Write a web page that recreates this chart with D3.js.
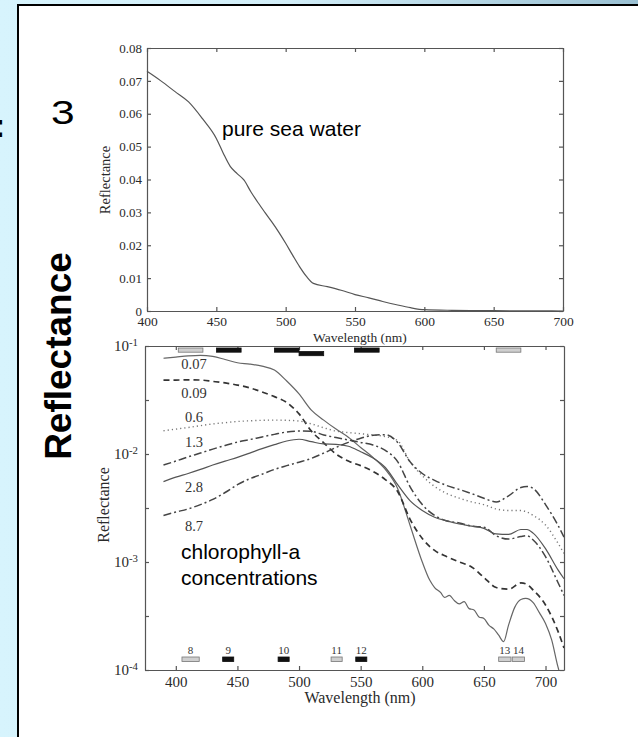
<!DOCTYPE html>
<html>
<head>
<meta charset="utf-8">
<script src="https://cdn.jsdelivr.net/npm/d3@7"></script>
<style>
  body { margin: 0; background: #fff; }
  svg { display: block; }
</style>
</head>
<body>
<svg width="638" height="737"></svg>
<script>
// ---- data ----

// pure sea water reflectance (top panel)
const seaWl = [400, 410, 420, 430, 440, 450, 455, 460, 465, 470, 475, 480, 485, 490, 495, 500, 505, 510, 515, 520, 530, 540, 550, 560, 570, 580, 590, 600, 620, 650, 700];
const seaR = [0.0729, 0.0700, 0.0668, 0.0636, 0.0585, 0.0525, 0.0480, 0.0440, 0.0418, 0.0398, 0.0362, 0.0330, 0.0300, 0.0271, 0.0240, 0.0206, 0.0170, 0.0135, 0.0105, 0.0084, 0.0074, 0.0063, 0.0050, 0.0040, 0.0029, 0.0019, 0.0010, 0.0004, 0.0002, 0.0001, 0.0];

// chlorophyll-a spectra (bottom panel), shared grid
const chlWl = [390, 400, 410, 420, 430, 440, 450, 460, 470, 480, 490, 500, 510, 520, 530, 540, 550, 560, 570, 580, 590, 600, 610, 620, 630, 640, 650, 660, 670, 680, 685, 690, 700, 710, 715];
const chl009 = [0.0484, 0.0484, 0.0486, 0.0484, 0.0470, 0.0455, 0.0435, 0.0410, 0.0375, 0.0340, 0.0300, 0.0235, 0.0163, 0.0127, 0.0100, 0.0086, 0.0078, 0.0069, 0.0058, 0.0045, 0.0025, 0.00165, 0.00128, 0.00112, 0.00100, 0.00090, 0.00072, 0.00058, 0.00056, 0.00064, 0.00062, 0.00055, 0.00040, 0.00023, 0.00016];
const chl06 = [0.0164, 0.0170, 0.0176, 0.0183, 0.0190, 0.0195, 0.0200, 0.0203, 0.0205, 0.0206, 0.0205, 0.0202, 0.0190, 0.0175, 0.0163, 0.0158, 0.0154, 0.0150, 0.0145, 0.0133, 0.0085, 0.0063, 0.0050, 0.0043, 0.0039, 0.0036, 0.0034, 0.0031, 0.0030, 0.0030, 0.0029, 0.0027, 0.0022, 0.0015, 0.0012];
const chl13 = [0.0079, 0.0086, 0.0094, 0.0102, 0.0111, 0.0120, 0.0129, 0.0136, 0.0144, 0.0152, 0.0160, 0.0163, 0.0162, 0.0150, 0.0142, 0.0135, 0.0128, 0.0121, 0.0108, 0.0085, 0.0050, 0.0034, 0.0027, 0.0024, 0.0023, 0.00215, 0.0021, 0.00175, 0.00163, 0.00172, 0.00175, 0.0016, 0.00112, 0.00065, 0.00049];
const chl28 = [0.00555, 0.0061, 0.0066, 0.0072, 0.0079, 0.0086, 0.0093, 0.0102, 0.0112, 0.0122, 0.0132, 0.0137, 0.0130, 0.0124, 0.0123, 0.0118, 0.0105, 0.0092, 0.0075, 0.0052, 0.0037, 0.0030, 0.0026, 0.0024, 0.00225, 0.00215, 0.00205, 0.00182, 0.0018, 0.0020, 0.0020, 0.00185, 0.00133, 0.00085, 0.00070];
const chl87 = [0.0027, 0.0029, 0.0031, 0.0034, 0.0038, 0.0044, 0.0052, 0.0059, 0.0065, 0.0072, 0.0078, 0.0084, 0.0091, 0.0102, 0.0115, 0.0128, 0.0140, 0.0149, 0.0151, 0.0128, 0.0085, 0.0066, 0.0057, 0.0051, 0.0047, 0.0043, 0.0039, 0.0036, 0.0041, 0.0049, 0.0050, 0.0048, 0.0034, 0.0022, 0.0017];

// lowest concentration is noisy in the red, so it gets its own grid
const chl007Wl = [390, 400, 410, 420, 430, 440, 450, 460, 470, 480, 490, 500, 510, 520, 530, 540, 550, 560, 570, 580, 590, 600, 606, 610, 615, 618, 622, 626, 630, 634, 638, 642, 646, 650, 654, 658, 662, 666, 670, 675, 680, 684, 690, 695, 700, 705, 710, 715];
const chl007 = [0.0770, 0.0790, 0.0810, 0.0820, 0.0800, 0.0750, 0.0700, 0.0680, 0.0650, 0.0600, 0.0474, 0.0360, 0.0255, 0.0206, 0.0170, 0.0143, 0.0115, 0.0093, 0.0072, 0.0048, 0.0022, 0.00100, 0.00068, 0.00058, 0.00052, 0.00047, 0.00049, 0.00044, 0.00041, 0.00043, 0.00037, 0.00036, 0.00031, 0.00030, 0.00026, 0.00024, 0.00021, 0.000183, 0.00026, 0.00038, 0.00045, 0.00046, 0.00042, 0.00034, 0.00027, 0.00019, 0.000108, 0.00007];

const chlLabels = ["0.07", "0.09", "0.6", "1.3", "2.8", "8.7"];

// sensor bands: unlabeled row along the top, numbered row along the bottom
const topBandStart = [402, 433, 480, 500, 545, 660];
const topBandEnd = [422, 453, 500, 520, 565, 680];
const topBandDark = [false, true, true, true, true, false];
const topBandLevel = [0, 0, 0, 1, 0, 0];

const bandNames = ["8", "9", "10", "11", "12", "13", "14"];
const bandStart = [405, 438, 483, 526, 546, 662, 673];
const bandEnd = [419, 447, 492, 535, 555, 672, 683];
const bandDark = [false, true, true, false, true, false, false];

const xTicks = [400, 450, 500, 550, 600, 650, 700];
const yTicksTop = [0, 0.01, 0.02, 0.03, 0.04, 0.05, 0.06, 0.07, 0.08];
const logTickExp = [-4, -3.5, -3, -2.5, -2, -1.5, -1];

// ---- setup ----
const svg = d3.select("svg");
const serif = "'Liberation Serif', 'Times New Roman', serif";
const sans = "'Liberation Sans', Arial, sans-serif";
const axisColor = "#555";
const textColor = "#2a2a2a";

const defs = svg.append("defs");
const bg = defs.append("linearGradient").attr("id", "bg")
  .attr("x1", 0).attr("x2", 1).attr("y1", 0).attr("y2", 0);
bg.append("stop").attr("offset", "0%").attr("stop-color", "#d7f4fd");
bg.append("stop").attr("offset", "45%").attr("stop-color", "#d2eef8");
bg.append("stop").attr("offset", "100%").attr("stop-color", "#9ac0d2");

svg.append("rect").attr("width", 638).attr("height", 737).attr("fill", "url(#bg)");

// slide text cut off behind the panel
svg.append("text")
  .attr("x", -6).attr("y", 137)
  .attr("font-family", sans).attr("font-weight", "bold").attr("font-size", 34)
  .text(":");

svg.append("rect")
  .attr("x", 18).attr("y", 5).attr("width", 640).attr("height", 760)
  .attr("fill", "white").attr("stroke", "black").attr("stroke-width", 2);

svg.append("text")
  .attr("transform", "translate(51,124) scale(1.25,1)")
  .attr("font-family", sans).attr("font-size", 34)
  .text("3");

svg.append("text")
  .attr("transform", "translate(71,356) rotate(-90)")
  .attr("text-anchor", "middle")
  .attr("font-family", sans).attr("font-weight", "bold").attr("font-size", 37)
  .text("Reflectance");

// ---- scales ----
const x1 = d3.scaleLinear().domain([400, 700]).range([147, 563]);
const y1 = d3.scaleLinear().domain([0, 0.08]).range([311, 48]);
const x2 = d3.scaleLinear().domain([375, 715]).range([145, 564]);
const y2 = d3.scaleLog().domain([1e-4, 1e-1]).range([670, 346]);

function styleAxis(g, size) {
  g.selectAll("path, line").attr("stroke", axisColor).attr("stroke-width", 1.2);
  g.selectAll("text")
    .attr("font-family", serif).attr("font-size", size).attr("fill", textColor);
}

function frame(x, y, xVals, yVals, xSize, ySize, yFmt, xPad, yPad) {
  const [x0, x1r] = x.range();
  const [yb, yt] = y.range();
  const gb = svg.append("g").attr("transform", `translate(0,${yb})`)
    .call(d3.axisBottom(x).tickValues(xVals).tickSizeInner(-4).tickSizeOuter(0).tickPadding(xPad));
  styleAxis(gb, xSize);
  const gt = svg.append("g").attr("transform", `translate(0,${yt})`)
    .call(d3.axisTop(x).tickValues(xVals).tickFormat("").tickSizeInner(-4).tickSizeOuter(0));
  styleAxis(gt, xSize);
  const gl = svg.append("g").attr("transform", `translate(${x0},0)`)
    .call(d3.axisLeft(y).tickValues(yVals).tickFormat(yFmt).tickSizeInner(-4).tickSizeOuter(0).tickPadding(yPad));
  styleAxis(gl, ySize);
  const gr = svg.append("g").attr("transform", `translate(${x1r},0)`)
    .call(d3.axisRight(y).tickValues(yVals).tickFormat("").tickSizeInner(-4).tickSizeOuter(0));
  styleAxis(gr, ySize);
  return gl;
}

// ---- top panel: pure sea water ----
frame(x1, y1, xTicks, yTicksTop, 13.5, 13, d => (d === 0 ? "0" : d3.format(".2f")(d)), 5, 5);

svg.append("text")
  .attr("x", 360).attr("y", 342).attr("text-anchor", "middle")
  .attr("font-family", serif).attr("font-size", 13.5).attr("fill", textColor)
  .text("Wavelength (nm)");
svg.append("text")
  .attr("transform", "translate(110,180) rotate(-90)").attr("text-anchor", "middle")
  .attr("font-family", serif).attr("font-size", 14.5).attr("fill", textColor)
  .text("Reflectance");

const seaLine = d3.line().x((d, i) => x1(seaWl[i])).y(d => y1(d)).curve(d3.curveMonotoneX);
svg.append("path")
  .attr("d", seaLine(seaR))
  .attr("fill", "none").attr("stroke", "#555").attr("stroke-width", 1.2);

svg.append("text")
  .attr("x", 222).attr("y", 136)
  .attr("font-family", sans).attr("font-size", 21)
  .text("pure sea water");

// ---- bottom panel: chlorophyll-a ----
const logVals = logTickExp.map(e => Math.pow(10, e));
const gl2 = frame(x2, y2, xTicks, logVals, 15, 15, () => "", 6, 7);
gl2.selectAll(".tick text").each(function (d, i) {
  const e = logTickExp[i];
  if (e !== Math.round(e)) return;
  const t = d3.select(this).text("10");
  t.append("tspan").attr("dy", "-0.45em").attr("font-size", "0.72em").text(e);
});

svg.append("text")
  .attr("x", 360).attr("y", 703).attr("text-anchor", "middle")
  .attr("font-family", serif).attr("font-size", 16).attr("fill", textColor)
  .text("Wavelength (nm)");
svg.append("text")
  .attr("transform", "translate(109,505) rotate(-90)").attr("text-anchor", "middle")
  .attr("font-family", serif).attr("font-size", 16).attr("fill", textColor)
  .text("Reflectance");

defs.append("clipPath").attr("id", "clip2").append("rect")
  .attr("x", x2.range()[0]).attr("y", y2.range()[1])
  .attr("width", x2.range()[1] - x2.range()[0])
  .attr("height", y2.range()[0] - y2.range()[1]);

const curves = [
  { wl: chl007Wl, r: chl007, dash: null, color: "#666", w: 1.2 },
  { wl: chlWl, r: chl009, dash: "6,4", color: "#333", w: 1.7 },
  { wl: chlWl, r: chl06, dash: "1.2,3", color: "#777", w: 1.4 },
  { wl: chlWl, r: chl13, dash: "8,3,2,3", color: "#444", w: 1.5 },
  { wl: chlWl, r: chl28, dash: null, color: "#555", w: 1.2 },
  { wl: chlWl, r: chl87, dash: "8,3,2,3", color: "#444", w: 1.5 },
];

const gCurves = svg.append("g").attr("clip-path", "url(#clip2)");
curves.forEach(c => {
  const line = d3.line()
    .x((d, i) => x2(c.wl[i]))
    .y(d => y2(d))
    .curve(d3.curveMonotoneX);
  gCurves.append("path")
    .attr("d", line(c.r))
    .attr("fill", "none")
    .attr("stroke", c.color)
    .attr("stroke-width", c.w)
    .attr("stroke-dasharray", c.dash);
});

// concentration labels next to the left end of each curve
const labelY = [369, 397.5, 421.5, 447, 492, 531];
svg.append("g").selectAll("text")
  .data(chlLabels)
  .join("text")
  .attr("x", 194).attr("y", (d, i) => labelY[i])
  .attr("text-anchor", "middle")
  .attr("font-family", serif).attr("font-size", 14.5).attr("fill", "#333")
  .text(d => d);

svg.append("text")
  .attr("font-family", sans).attr("font-size", 21)
  .selectAll("tspan")
  .data(["chlorophyll-a", "concentrations"])
  .join("tspan")
  .attr("x", 181).attr("y", (d, i) => 559 + i * 26)
  .text(d => d);

// band markers
const topBands = topBandStart.map((s, i) => ({ s, e: topBandEnd[i], dark: topBandDark[i], lvl: topBandLevel[i] }));
svg.append("g").selectAll("rect")
  .data(topBands)
  .join("rect")
  .attr("x", d => x2(d.s))
  .attr("y", d => 348 + d.lvl * 3.5)
  .attr("width", d => x2(d.e) - x2(d.s))
  .attr("height", 4.2)
  .attr("fill", d => (d.dark ? "#111" : "#cfcfcf"))
  .attr("stroke", d => (d.dark ? "#111" : "#777"))
  .attr("stroke-width", 0.8);

const bands = bandNames.map((n, i) => ({ n, s: bandStart[i], e: bandEnd[i], dark: bandDark[i] }));
const gBands = svg.append("g");
gBands.selectAll("rect")
  .data(bands)
  .join("rect")
  .attr("x", d => x2(d.s))
  .attr("y", 657)
  .attr("width", d => x2(d.e) - x2(d.s))
  .attr("height", 4.6)
  .attr("fill", d => (d.dark ? "#111" : "#cfcfcf"))
  .attr("stroke", d => (d.dark ? "#111" : "#777"))
  .attr("stroke-width", 0.8);
gBands.selectAll("text")
  .data(bands)
  .join("text")
  .attr("x", d => x2((d.s + d.e) / 2))
  .attr("y", 654)
  .attr("text-anchor", "middle")
  .attr("font-family", serif).attr("font-size", 11).attr("fill", "#333")
  .text(d => d.n);
</script>
</body>
</html>
